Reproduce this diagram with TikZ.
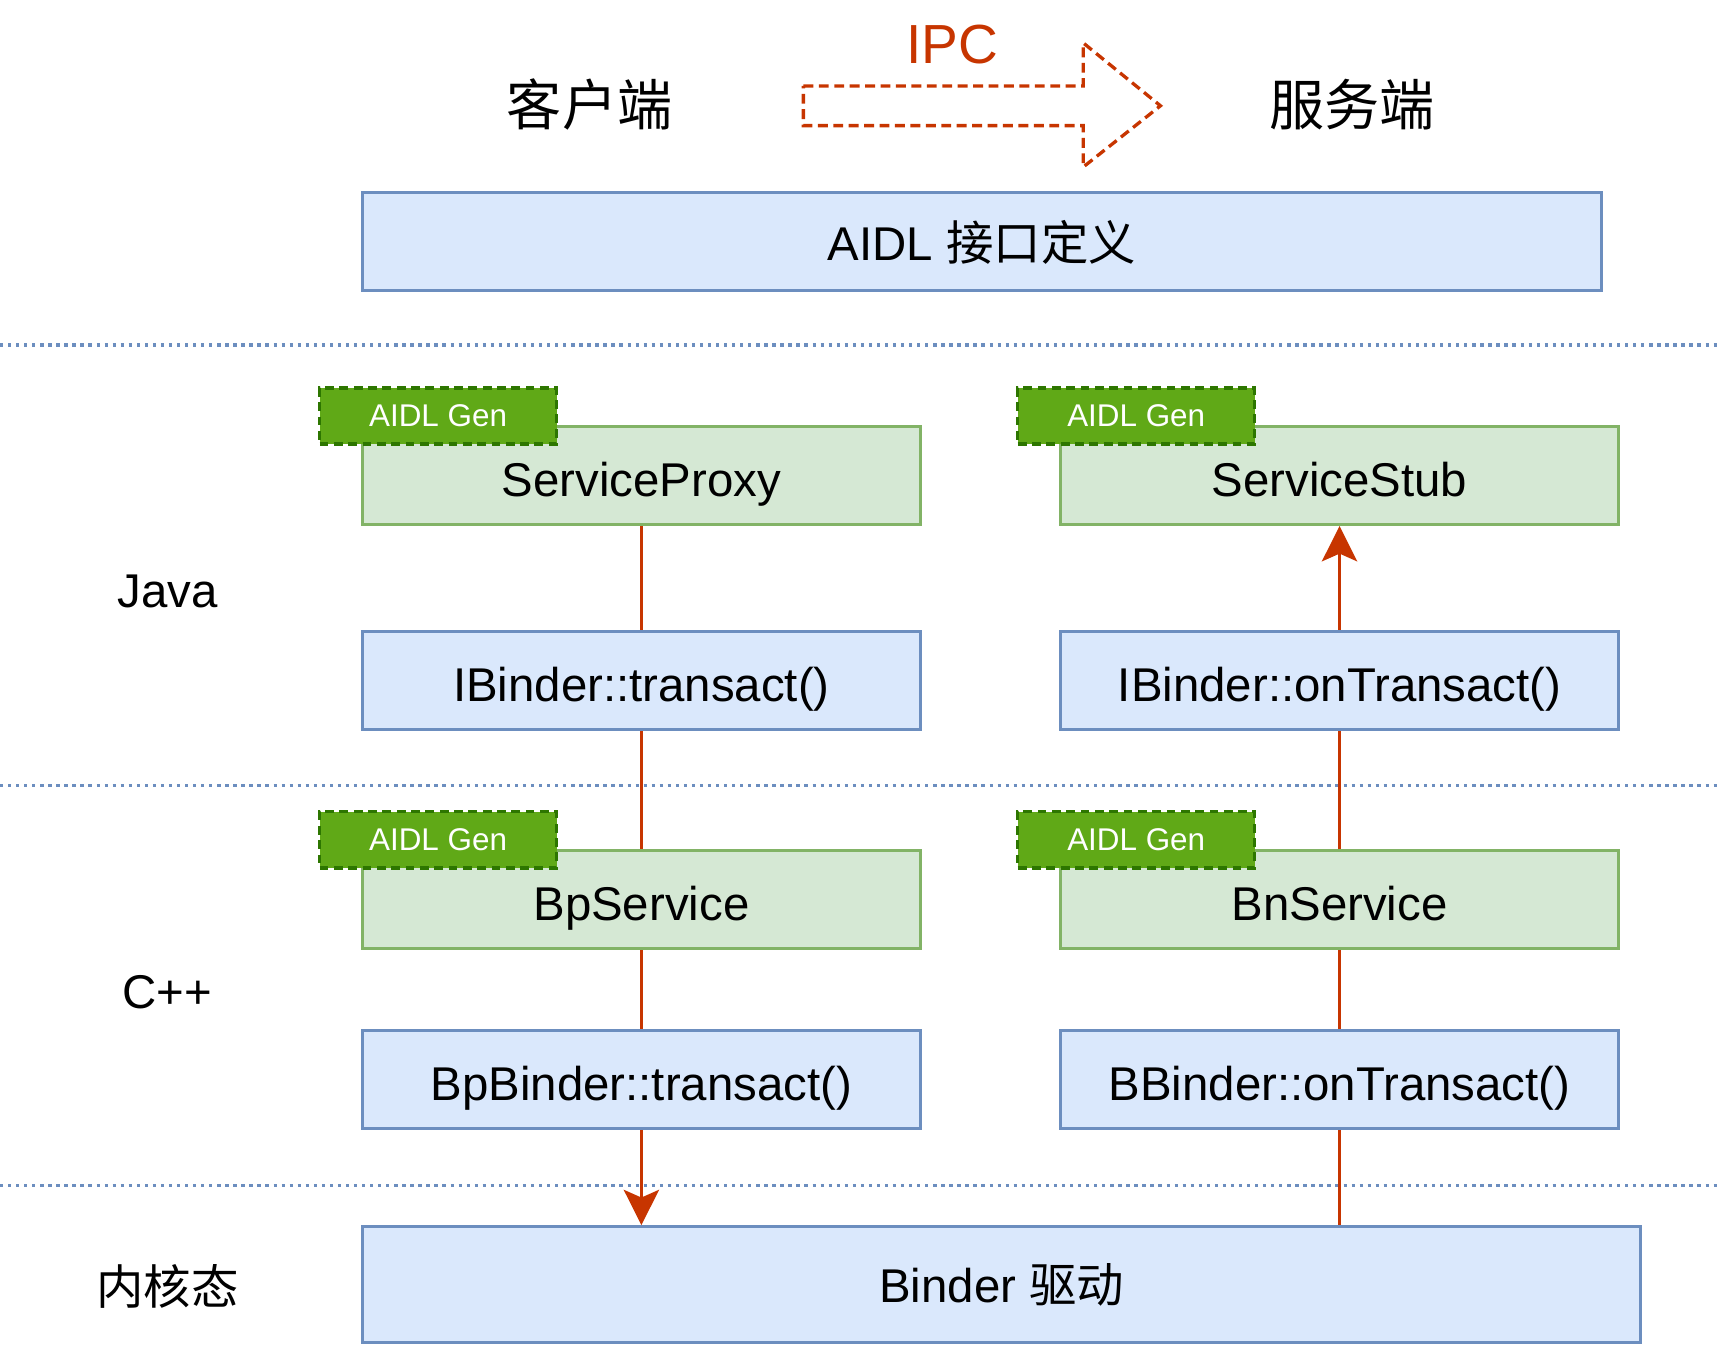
\documentclass[tikz,border=0pt]{standalone}
\usepackage{fontspec}
\setmainfont{Liberation Sans}
\newfontfamily\cjk{Noto Sans CJK SC}
\usetikzlibrary{arrows.meta}
\definecolor{bfill}{HTML}{DAE8FC}
\definecolor{bline}{HTML}{6C8EBF}
\definecolor{gfill}{HTML}{D5E8D4}
\definecolor{gline}{HTML}{82B366}
\definecolor{tfill}{HTML}{60A917}
\definecolor{tline}{HTML}{2D7600}
\definecolor{ipcred}{HTML}{C73500}
\tikzset{
  bluebox/.style={draw=bline, fill=bfill, line width=2.7pt, minimum height=89pt, inner sep=0pt,
    font=\fontsize{43}{50}\selectfont},
  greenbox/.style={draw=gline, fill=gfill, line width=2.7pt, minimum width=506pt, minimum height=89pt, inner sep=0pt,
    font=\fontsize{43}{50}\selectfont, text height=38pt, text depth=0pt},
  fixbase/.style={text height=38pt, text depth=0pt},
  tagbox/.style={draw=tline, fill=tfill, line width=3pt, dash pattern=on 8pt off 5pt,
    minimum width=215pt, minimum height=51pt, inner sep=0pt, text=white,
    font=\fontsize{28.5}{32}\selectfont},
  lbl/.style={inner sep=0pt, font=\fontsize{43}{50}\selectfont},
  conn/.style={draw=ipcred, line width=2.7pt},
  arr/.style={conn, -{Stealth[length=32pt, width=32pt, inset=7pt]}},
  sep/.style={draw=bline, line width=3pt, dash pattern=on 3pt off 4.3pt},
}
\begin{document}
\begin{tikzpicture}[x=1pt,y=-1pt]
\useasboundingbox (0,0) rectangle (1568,1223);
% titles
\node[inner sep=0pt, font=\fontsize{50}{56}\selectfont\cjk] (client) at (535,95) {客户端};
\node[inner sep=0pt, font=\fontsize{50}{56}\selectfont\cjk] (server) at (1227,95) {服务端};
\node[inner sep=0pt, text=ipcred, font=\fontsize{50}{56}\selectfont] (ipc) at (864,40) {IPC};
\draw[draw=ipcred, line width=3pt, dash pattern=on 9pt off 5pt]
  (729,78) -- (983,78) -- (983,39) -- (1053,96) -- (983,151.5) -- (983,114) -- (729,114) -- cycle;
% AIDL
\node[bluebox, minimum width=1124pt] (aidl) at (891,219.5) {AIDL {\cjk 接口定义}};
% separators
\draw[sep] (0,313) -- (1560,313);
\draw[sep] (0,713) -- (1560,713);
\draw[sep] (0,1076) -- (1560,1076);
% side labels
\node[lbl] (java) at (152,537) {Java};
\node[lbl] (cpp) at (152,900) {C++};
\node[lbl, font=\fontsize{43}{50}\selectfont\cjk] (kernel) at (152,1167) {内核态};
% boxes
\node[greenbox] (sp) at (582,431.5) {ServiceProxy};
\node[greenbox] (ss) at (1215.5,431.5) {ServiceStub};
\node[bluebox, fixbase, minimum width=506pt] (ibt) at (582,617.5) {IBinder::transact()};
\node[bluebox, fixbase, minimum width=506pt] (ibo) at (1215.5,617.5) {IBinder::onTransact()};
\node[greenbox] (bps) at (582,816.5) {BpService};
\node[greenbox] (bns) at (1215.5,816.5) {BnService};
\node[bluebox, fixbase, minimum width=506pt] (bpb) at (582,979.5) {BpBinder::transact()};
\node[bluebox, fixbase, minimum width=506pt] (bbo) at (1215.5,979.5) {BBinder::onTransact()};
\node[bluebox, minimum width=1160pt, minimum height=105pt] (binder) at (909,1165.5) {Binder {\cjk 驱动}};
% tags
\node[tagbox] (tag1) at (397.5,377.5) {AIDL Gen};
\node[tagbox] (tag2) at (1031,377.5) {AIDL Gen};
\node[tagbox] (tag3) at (397.5,762) {AIDL Gen};
\node[tagbox] (tag4) at (1031,762) {AIDL Gen};
% connectors
\draw[conn] (sp.south) -- (ibt.north);
\draw[conn] (ibt.south) -- (bps.north);
\draw[conn] (bps.south) -- (bpb.north);
\draw[arr] (bpb.south) -- (bpb.south |- binder.north);
\draw[conn] (binder.north -| bbo.south) -- (bbo.south);
\draw[conn] (bbo.north) -- (bns.south);
\draw[conn] (bns.north) -- (ibo.south);
\draw[arr] (ibo.north) -- (ss.south);
\end{tikzpicture}
\end{document}
